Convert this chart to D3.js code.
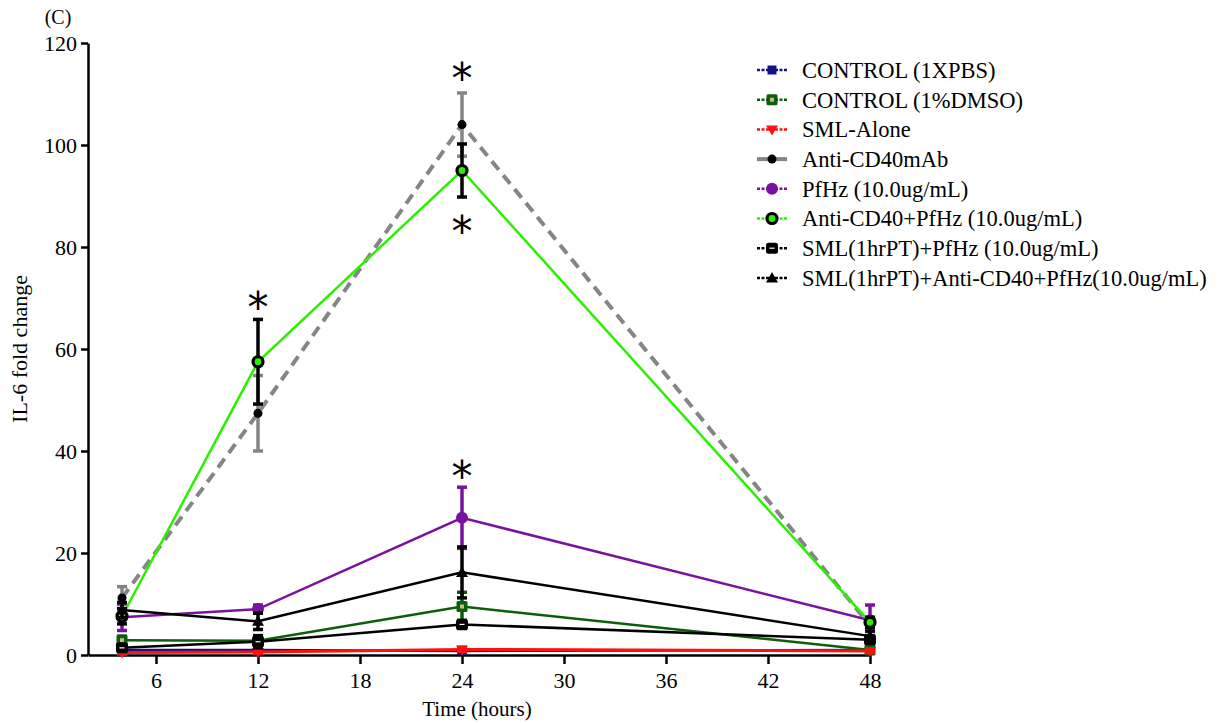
<!DOCTYPE html>
<html>
<head>
<meta charset="utf-8">
<script src="https://cdn.jsdelivr.net/npm/d3@7"></script>
<style>
  html, body { margin: 0; padding: 0; background: #fff; }
  svg { display: block; font-family: "Liberation Serif", "Times New Roman", serif; }
</style>
</head>
<body>
<svg id="chart" width="1225" height="723"></svg>
<script>
// Time points (hours) and IL-6 fold change per treatment group
const hours = [4, 12, 24, 48];
const xTicks = [6, 12, 18, 24, 30, 36, 42, 48];
const yTicks = [0, 20, 40, 60, 80, 100, 120];

const seriesNames = [
  "CONTROL (1XPBS)",
  "CONTROL (1%DMSO)",
  "SML-Alone",
  "Anti-CD40mAb",
  "PfHz (10.0ug/mL)",
  "Anti-CD40+PfHz (10.0ug/mL)",
  "SML(1hrPT)+PfHz (10.0ug/mL)",
  "SML(1hrPT)+Anti-CD40+PfHz(10.0ug/mL)"
];

const pbsMean      = [1.0, 1.0, 0.8, 1.0];
const dmsoMean     = [2.9, 2.8, 9.5, 1.0];
const smlMean      = [0.5, 0.6, 1.1, 0.8];
const cd40Mean     = [11.2, 47.4, 104.0, 5.8];
const pfhzMean     = [7.4, 9.0, 26.9, 6.8];
const cd40PfhzMean = [7.6, 57.5, 95.0, 6.4];
const smlPfhzMean  = [1.4, 2.6, 6.0, 3.0];
const smlCd40PfhzMean = [8.8, 6.6, 16.2, 3.7];

const pbsErr      = [0.3, 0.3, 0.3, 0.3];
const dmsoErr     = [0.8, 0.6, 2.8, 0.4];
const smlErr      = [0.3, 0.3, 0.4, 0.3];
const cd40Err     = [2.2, 7.4, 6.2, 1.2];
const pfhzErr     = [2.6, 0.8, 6.0, 3.0];
const cd40PfhzErr = [1.5, 8.3, 5.2, 1.0];
const smlPfhzErr  = [0.6, 1.2, 0.8, 0.6];
const smlCd40PfhzErr = [1.5, 1.6, 5.0, 1.0];

// Significance marks: [hour, y-value where the asterisk sits]
const starHours  = [12, 24, 24, 24];
const starValues = [68.2, 113.1, 83.0, 35.0];

const means = [pbsMean, dmsoMean, smlMean, cd40Mean, pfhzMean, cd40PfhzMean, smlPfhzMean, smlCd40PfhzMean];
const errs  = [pbsErr, dmsoErr, smlErr, cd40Err, pfhzErr, cd40PfhzErr, smlPfhzErr, smlCd40PfhzErr];

// Visual style of each group
const styles = [
  { line: "#10108a", width: 2.5, dash: null, err: "#10108a", marker: "square", fill: "#10108a" },
  { line: "#0b5e0b", width: 2.5, dash: null, err: "#0b5e0b", marker: "squareDot", fill: "#0b5e0b" },
  { line: "#ff1010", width: 3,   dash: null, err: "#ff1010", marker: "triDown", fill: "#ff1010" },
  { line: "#858585", width: 4,   dash: "11,7", err: "#858585", marker: "circle", fill: "#000" },
  { line: "#7a12a0", width: 2.5, dash: null, err: "#7a12a0", marker: "bigCircle", fill: "#7a12a0" },
  { line: "#2bf000", width: 2.5, dash: null, err: "#000", marker: "ring", fill: "#000" },
  { line: "#000",    width: 2.5, dash: null, err: "#000", marker: "squareLine", fill: "#000" },
  { line: "#000",    width: 2.5, dash: null, err: "#000", marker: "triUp", fill: "#000" }
];

const svg = d3.select("#chart");
const x = d3.scaleLinear().domain([2, 48]).range([88, 870]);
const y = d3.scaleLinear().domain([0, 120]).range([655, 43]);

function drawMarker(g, kind, cx, cy, col) {
  if (kind === "square") {
    g.append("rect").attr("x", cx - 4.5).attr("y", cy - 4.5).attr("width", 9).attr("height", 9).attr("fill", col);
  } else if (kind === "squareDot") {
    g.append("rect").attr("x", cx - 5.5).attr("y", cy - 5.5).attr("width", 11).attr("height", 11).attr("rx", 1.5).attr("fill", col);
    g.append("rect").attr("x", cx - 2).attr("y", cy - 2).attr("width", 4).attr("height", 4).attr("fill", "#c9bb86");
  } else if (kind === "triDown") {
    g.append("path").attr("d", `M${cx - 6},${cy - 4} L${cx + 6},${cy - 4} L${cx},${cy + 6} Z`).attr("fill", col);
  } else if (kind === "triUp") {
    g.append("path").attr("d", `M${cx - 6},${cy + 4.5} L${cx + 6},${cy + 4.5} L${cx},${cy - 6} Z`).attr("fill", col);
  } else if (kind === "circle") {
    g.append("circle").attr("cx", cx).attr("cy", cy).attr("r", 4.5).attr("fill", col);
  } else if (kind === "bigCircle") {
    g.append("circle").attr("cx", cx).attr("cy", cy).attr("r", 6).attr("fill", col);
  } else if (kind === "ring") {
    g.append("circle").attr("cx", cx).attr("cy", cy).attr("r", 5).attr("fill", "#2bf000").attr("stroke", "#000").attr("stroke-width", 3.2);
  } else if (kind === "squareLine") {
    g.append("rect").attr("x", cx - 6).attr("y", cy - 5.5).attr("width", 12).attr("height", 11).attr("rx", 2.5).attr("fill", col);
    g.append("line").attr("x1", cx - 2.5).attr("x2", cx + 2.5).attr("y1", cy).attr("y2", cy).attr("stroke", "#fff").attr("stroke-width", 1.2);
  }
}

// Axes
const xAxis = d3.axisBottom(x).tickValues(xTicks).tickSize(9).tickSizeOuter(0);
const yAxis = d3.axisLeft(y).tickValues(yTicks).tickSize(7).tickSizeOuter(0);

const gx = svg.append("g").attr("transform", "translate(0,655)").call(xAxis);
const gy = svg.append("g").attr("transform", "translate(88,0)").call(yAxis);
[gx, gy].forEach(g => {
  g.select(".domain").attr("stroke", "#000").attr("stroke-width", 2.5);
  g.selectAll(".tick line").attr("stroke", "#000").attr("stroke-width", 2.5);
  g.selectAll(".tick text").attr("fill", "#000").style("font-size", "22px")
    .style("font-family", "'Liberation Serif', 'Times New Roman', serif");
});
gx.selectAll(".tick text").attr("dy", "0.95em");
gy.selectAll(".tick text").attr("dx", "-0.05em").attr("dy", "0.34em");

// Series lines, error bars and markers
const plot = svg.append("g");
means.forEach((vals, i) => {
  const st = styles[i];
  const g = plot.append("g");
  const pts = hours.map((h, k) => [h, vals[k]]);
  const line = d3.line().x(d => x(d[0])).y(d => y(d[1]));
  g.append("path").attr("d", line(pts)).attr("fill", "none")
    .attr("stroke", st.line).attr("stroke-width", st.width)
    .attr("stroke-dasharray", st.dash);
  hours.forEach((h, k) => {
    const cx = x(h);
    const lo = y(Math.max(0, vals[k] - errs[i][k]));
    const hi = y(vals[k] + errs[i][k]);
    g.append("line").attr("x1", cx).attr("x2", cx).attr("y1", lo).attr("y2", hi)
      .attr("stroke", st.err).attr("stroke-width", 3.5);
    [lo, hi].forEach(yy => g.append("line").attr("x1", cx - 5).attr("x2", cx + 5)
      .attr("y1", yy).attr("y2", yy).attr("stroke", st.err).attr("stroke-width", 3.5));
  });
  hours.forEach((h, k) => drawMarker(g, st.marker, x(h), y(vals[k]), st.fill));
});

// Significance asterisks
starHours.forEach((h, k) => {
  svg.append("text").attr("x", x(h)).attr("y", y(starValues[k]))
    .attr("text-anchor", "middle").attr("dominant-baseline", "central")
    .style("font-size", "42px").style("font-family", "'DejaVu Sans', sans-serif")
    .attr("fill", "#000").text("*");
});

// Axis titles and panel tag
svg.append("text").attr("x", 477).attr("y", 716).attr("text-anchor", "middle")
  .style("font-size", "21px").text("Time (hours)");
svg.append("text").attr("transform", "translate(27,349) rotate(-90)").attr("text-anchor", "middle")
  .style("font-size", "22px").text("IL-6 fold change");
svg.append("text").attr("x", 58).attr("y", 24).attr("text-anchor", "middle")
  .style("font-size", "20px").text("(C)");

// Legend
const legend = svg.append("g");
seriesNames.forEach((name, i) => {
  const st = styles[i];
  const ly = 70 + i * 29.7;
  legend.append("line").attr("x1", 757).attr("x2", 787).attr("y1", ly).attr("y2", ly)
    .attr("stroke", st.line).attr("stroke-width", i === 3 ? 4 : 2.5)
    .attr("stroke-dasharray", i === 3 ? null : "3,1.5");
  drawMarker(legend, st.marker, 772, ly, st.fill);
  legend.append("text").attr("x", 802).attr("y", ly).attr("dy", "0.35em")
    .style("font-size", "22.5px").attr("fill", "#000").text(name);
});
</script>
</body>
</html>
